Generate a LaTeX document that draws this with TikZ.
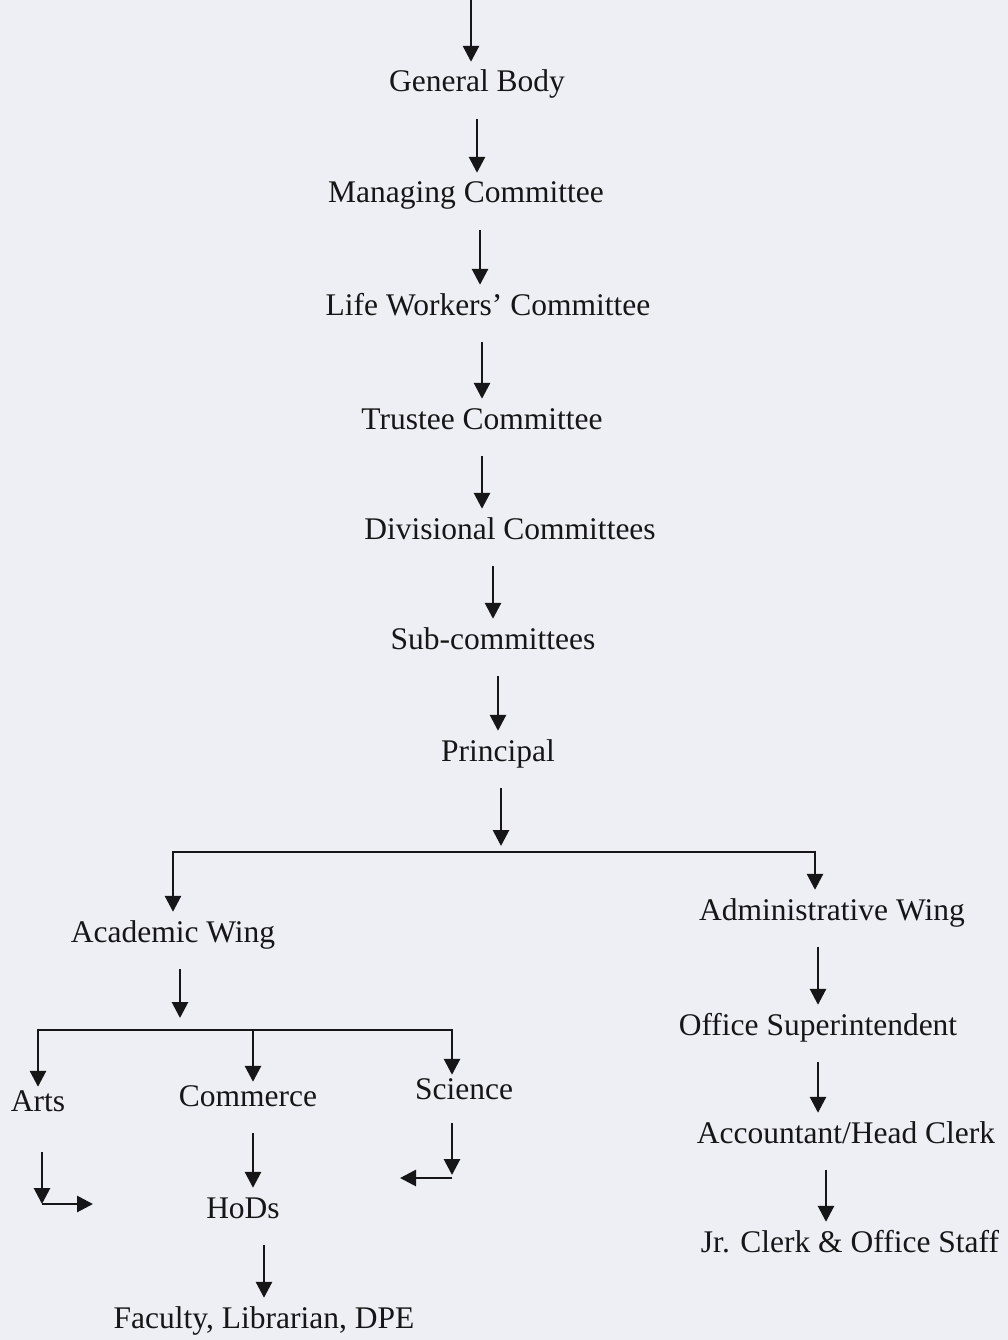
\documentclass[tikz,border=0pt]{standalone}
\usepackage{fontspec}
\setmainfont{Liberation Serif}
\usetikzlibrary{arrows.meta}

\definecolor{paper}{RGB}{237,239,244}
\definecolor{ink}{RGB}{22,22,24}

\begin{document}
\begin{tikzpicture}[x = 1pt, y = -1pt, >={Triangle[width = 16pt, length = 16pt]},
        every node/.style = {inner sep = 0, anchor = base, text = ink,
            font = \fontsize{31.5}{36}\selectfont, text height = 22pt, text depth = 7pt},
        link/.style = {->, draw = ink, line width = 2.8pt, shorten < = 20pt, shorten > = 8pt}]
    \useasboundingbox[fill = paper] (0,0) rectangle (1008,1340);

    % main chain
    \node (gb)  at (477,92)  {General Body};
    \node (mc)  at (466,203) {Managing Committee};
    \node (lwc) at (488,315) {Life Workers' Committee};
    \node (tc)  at (482,429) {Trustee Committee};
    \node (dc)  at (510,539) {Divisional Committees};
    \node (sc)  at (493,649) {Sub-committees};
    \node (pr)  at (498,761) {Principal};

    % the two wings
    \node (acw) at (173,942) {Academic Wing};
    \node (adw) at (832,920) {Administrative Wing};

    % academic side
    \node (arts) at (38,1111)  {Arts};
    \node (com)  at (248,1106) {Commerce};
    \node (sci)  at (464,1099) {Science};
    \node (hod)  at (243,1218) {HoDs};
    \node (fac)  at (264,1328) {Faculty, Librarian, DPE};

    % administrative side
    \node (os)  at (818,1035) {Office Superintendent};
    \node (acc) at (846,1143) {Accountant/Head Clerk};
    \node (jr)  at (850,1252) {Jr. Clerk \& Office Staff};

    \coordinate (top) at (471,0);
    \coordinate (bar) at (500,852);
    \coordinate (bar2) at (180,1030);
    \coordinate (artsend) at (93,1204);
    \coordinate (sciend) at (400,1178);

    \draw[link, shorten < = 0pt] (top) -- (top |- gb.north);
    \draw[link] (gb.south) -- (gb.south |- mc.north);
    \draw[link] ([xshift = 14pt]mc.south) -- ([xshift = 14pt]mc.south |- lwc.north);
    \draw[link] (tc.north |- lwc.south) -- (tc.north);
    \draw[link] (tc.south) -- (tc.south |- dc.north);
    \draw[link] (sc.north |- dc.south) -- (sc.north);
    \draw[link] (pr.north |- sc.south) -- (pr.north);
    \draw[link, shorten > = 6pt] ([xshift = 3pt]pr.south) -- ([xshift = 3pt]pr.south |- bar);

    % split into the wings
    \draw[link, shorten < = 0pt] (bar) -| (acw.north);
    \draw[link, shorten < = 0pt] (bar) -| ([xshift = -17pt]adw.north);

    \draw[link, shorten > = 12pt] ([xshift = 7pt]acw.south) -- (bar2);
    \draw[link, shorten < = 0pt, shorten > = 2pt] (bar2) -| (arts.north);
    \draw[link, shorten < = 0pt, shorten > = 2pt] (bar2) -| ([xshift = 5pt]com.north);
    \draw[link, shorten < = 0pt, shorten > = 2pt] (bar2) -| ([xshift = -12pt]sci.north);

    \draw[link] ([xshift = 5pt]com.south) -- ([xshift = 5pt]com.south |- hod.north);
    \draw[link] (fac.north |- hod.south) -- (fac.north);

    % bent arrows under Arts and Science
    \draw[link, shorten < = 34pt, shorten > = 0pt] ([xshift = 4pt]arts.south) -- ([xshift = 4pt]arts.south |- artsend);
    \draw[link, shorten < = 0pt, shorten > = 0pt] ([xshift = 4pt]arts.south |- artsend) -- (artsend);
    \draw[link, shorten < = 17pt, shorten > = 3pt] ([xshift = -12pt]sci.south) -- ([xshift = -12pt]sci.south |- sciend);
    \draw[link, shorten < = 0pt, shorten > = 0pt] ([xshift = -12pt]sci.south |- sciend) -- (sciend);

    \draw[link] (os.north |- adw.south) -- (os.north);
    \draw[link] (os.south) -- (os.south |- acc.north);
    \draw[link] ([xshift = -20pt]acc.south) -- ([xshift = -20pt]acc.south |- jr.north);
\end{tikzpicture}
\end{document}
